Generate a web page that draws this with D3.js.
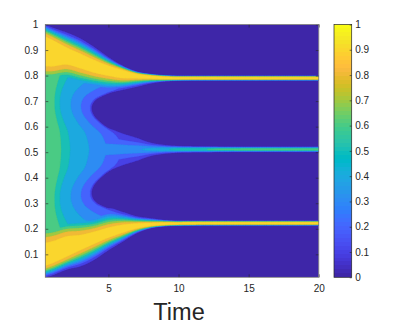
<!DOCTYPE html>
<html><head><meta charset="utf-8">
<script src="https://cdn.jsdelivr.net/npm/d3@7"></script>
<style>body{margin:0;background:#fff} svg text{font-family:"Liberation Sans",Arial,Helvetica,sans-serif}</style>
</head><body>
<svg id="chart" width="407" height="326"></svg>
<script>
// ---------- data ----------
const times         = [0.5,   1,     2,     3,     4,     5,     6,     7,     8,     9,     10,    12,    15,    20];
// upper branch
const upperCenter   = [0.895, 0.888, 0.877, 0.857, 0.836, 0.819, 0.806, 0.798, 0.794, 0.791, 0.790, 0.790, 0.790, 0.790];
const upperCore     = [0.058, 0.052, 0.034, 0.029, 0.025, 0.020, 0.016, 0.009, 0.006, 0.005, 0.004, 0.004, 0.004, 0.004];
const upperEdgeOut  = [0.105, 0.100, 0.092, 0.088, 0.075, 0.053, 0.033, 0.018, 0.012, 0.010, 0.009, 0.009, 0.009, 0.009];
const upperEdgeIn   = [0.150, 0.140, 0.130, 0.120, 0.100, 0.085, 0.062, 0.042, 0.025, 0.014, 0.010, 0.009, 0.009, 0.009];
// lower branch
const lowerCenter   = [0.100, 0.108, 0.130, 0.146, 0.165, 0.185, 0.200, 0.211, 0.217, 0.220, 0.221, 0.222, 0.222, 0.222];
const lowerCore     = [0.045, 0.043, 0.040, 0.030, 0.024, 0.020, 0.016, 0.010, 0.006, 0.005, 0.004, 0.004, 0.004, 0.004];
const lowerEdgeOut  = [0.090, 0.090, 0.090, 0.093, 0.086, 0.069, 0.051, 0.029, 0.015, 0.010, 0.009, 0.009, 0.009, 0.009];
const lowerEdgeIn   = [0.160, 0.150, 0.130, 0.120, 0.100, 0.095, 0.066, 0.038, 0.024, 0.014, 0.010, 0.009, 0.009, 0.009];
const bandPeak      = [0.95,  0.95,  0.95,  0.95,  0.95,  0.95,  0.95,  0.95,  0.95,  0.95,  0.95,  0.95,  0.95,  0.95];
// middle branch
const middleCenter  = 0.511;
const middlePeak    = [0.45,  0.42,  0.40,  0.39,  0.38,  0.38,  0.38,  0.39,  0.43,  0.48,  0.54,  0.60,  0.64,  0.66];
const middleEdge    = [0.120, 0.110, 0.100, 0.095, 0.090, 0.082, 0.062, 0.045, 0.026, 0.017, 0.013, 0.011, 0.010, 0.010];
const middleShape   = [1.3,   1.3,   1.3,   1.3,   1.3,   1.3,   1.4,   1.5,   1.8,   2.2,   2.6,   3.0,   3.2,   3.2];
// diffuse cloud between the branches: fade-out time vs. relative position u (0 = middle line, 1 = outer branch)
const cloudU        = [0,   0.1, 0.2, 0.3,  0.4,  0.49, 0.6,  0.7,  0.8, 0.9, 1];
const cloudEnd      = [6.2, 6.0, 5.6, 4.7,  4.0,  3.8,  4.1,  4.9,  5.9, 6.6, 6.8];
// cloud level vs. fraction of its lifetime
const cloudTau      = [0,    0.2,  0.31, 0.55, 0.77, 0.97, 1.0, 1.03];
const cloudLevel    = [0.68, 0.6,  0.5,  0.4,  0.3,  0.2,  0.1, 0.0];

const levels  = [0.1,0.2,0.3,0.4,0.5,0.6,0.7,0.8,0.9];
const xTicks  = [5,10,15,20];
const yTicks  = [0.1,0.2,0.3,0.4,0.5,0.6,0.7,0.8,0.9,1];
const cbTicks = [0,0.1,0.2,0.3,0.4,0.5,0.6,0.7,0.8,0.9,1];
const xDomain = [0.5, 20];
const yDomain = [0.01, 1];
const xLabel  = "Time";

// parula (64 colours)
const parulaMap = [
[0.2422,0.1504,0.6603],[0.2504,0.1650,0.7076],[0.2578,0.1818,0.7511],[0.2647,0.1978,0.7952],
[0.2706,0.2147,0.8364],[0.2751,0.2342,0.8710],[0.2783,0.2559,0.8991],[0.2803,0.2782,0.9221],
[0.2813,0.3006,0.9414],[0.2810,0.3228,0.9579],[0.2795,0.3447,0.9717],[0.2760,0.3667,0.9829],
[0.2699,0.3892,0.9906],[0.2602,0.4123,0.9952],[0.2440,0.4358,0.9988],[0.2206,0.4603,0.9973],
[0.1963,0.4847,0.9892],[0.1834,0.5074,0.9798],[0.1786,0.5289,0.9682],[0.1764,0.5499,0.9520],
[0.1687,0.5703,0.9359],[0.1540,0.5902,0.9218],[0.1460,0.6091,0.9079],[0.1380,0.6276,0.8973],
[0.1248,0.6459,0.8883],[0.1113,0.6635,0.8763],[0.0952,0.6798,0.8598],[0.0689,0.6948,0.8394],
[0.0297,0.7082,0.8163],[0.0036,0.7203,0.7917],[0.0067,0.7312,0.7660],[0.0433,0.7411,0.7394],
[0.0964,0.7500,0.7120],[0.1408,0.7584,0.6842],[0.1717,0.7670,0.6554],[0.1938,0.7758,0.6251],
[0.2161,0.7843,0.5923],[0.2470,0.7918,0.5567],[0.2906,0.7973,0.5188],[0.3406,0.8008,0.4789],
[0.3909,0.8029,0.4354],[0.4456,0.8024,0.3909],[0.5044,0.7993,0.3480],[0.5616,0.7942,0.3045],
[0.6174,0.7876,0.2612],[0.6720,0.7793,0.2227],[0.7242,0.7698,0.1910],[0.7738,0.7598,0.1646],
[0.8203,0.7498,0.1535],[0.8634,0.7406,0.1596],[0.9035,0.7330,0.1774],[0.9393,0.7288,0.2100],
[0.9728,0.7298,0.2394],[0.9956,0.7434,0.2371],[0.9970,0.7659,0.2199],[0.9952,0.7893,0.2028],
[0.9892,0.8136,0.1885],[0.9786,0.8386,0.1766],[0.9676,0.8639,0.1643],[0.9610,0.8890,0.1537],
[0.9597,0.9135,0.1423],[0.9628,0.9373,0.1265],[0.9691,0.9606,0.1064],[0.9769,0.9839,0.0805]];
const toRGB = c => d3.rgb(c[0]*255, c[1]*255, c[2]*255).formatHex();
const parula = v => toRGB(parulaMap[Math.max(0, Math.min(63, Math.floor(v*64 + 1e-9)))]);

// smooth (monotone cubic) reading between the picked values
function smoothThrough(xs, ys){
  const n = xs.length, d = [], m = new Array(n);
  for (let i=0;i<n-1;i++) d[i] = (ys[i+1]-ys[i])/(xs[i+1]-xs[i]);
  m[0]=d[0]; m[n-1]=d[n-2];
  for (let i=1;i<n-1;i++) m[i] = d[i-1]*d[i] <= 0 ? 0 : (d[i-1]+d[i])/2;
  for (let i=0;i<n-1;i++){
    if (d[i]===0){ m[i]=0; m[i+1]=0; continue; }
    const a=m[i]/d[i], b=m[i+1]/d[i], h=a*a+b*b;
    if (h>9){ const tt=3/Math.sqrt(h); m[i]=tt*a*d[i]; m[i+1]=tt*b*d[i]; }
  }
  return v => {
    if (v<=xs[0]) return ys[0];
    if (v>=xs[n-1]) return ys[n-1];
    const k = Math.min(n-2, Math.max(0, d3.bisectRight(xs, v)-1));
    const h = xs[k+1]-xs[k], s=(v-xs[k])/h, s2=s*s, s3=s2*s;
    return (2*s3-3*s2+1)*ys[k] + (s3-2*s2+s)*h*m[k] + (-2*s3+3*s2)*ys[k+1] + (s3-s2)*h*m[k+1];
  };
}

// ---------- layout ----------
const P = {left:45.3, right:318.8, top:24.5, bottom:277.3};
const CB = {left:334, right:351.7};
const svg = d3.select("#chart");
const x = d3.scaleLinear().domain(xDomain).range([P.left, P.right]);
const y = d3.scaleLinear().domain(yDomain).range([P.bottom, P.top]);

// ---------- field ----------
const S = arr => smoothThrough(times, arr);
const fUc=S(upperCenter), fUk=S(upperCore), fUo=S(upperEdgeOut), fUi=S(upperEdgeIn);
const fLc=S(lowerCenter), fLk=S(lowerCore), fLo=S(lowerEdgeOut), fLi=S(lowerEdgeIn);
const fA=S(bandPeak), fMa=S(middlePeak), fMe=S(middleEdge), fMp=S(middleShape);
const fEnd = smoothThrough(cloudU, cloudEnd);
const fLev = d3.scaleLinear().domain(cloudTau).range(cloudLevel).clamp(true);

// branch profile: peak A, value 0.9 at distance `core`, value 0.1 at distance `edge`
function profile(A, core, edge){
  const lc = Math.log(A/0.9), le = Math.log(A/0.1);
  const p = Math.log(lc/le)/Math.log(core/edge);
  const s = edge/Math.pow(le, 1/p);
  return {p, s};
}

const nx = 391, ny = 397;
const dt = (xDomain[1]-xDomain[0])/(nx-1), dy = (yDomain[1]-yDomain[0])/(ny-1);
const vals = new Float64Array(nx*ny);
for (let i=0;i<nx;i++){
  const t = xDomain[0] + i*dt;
  const cu=fUc(t), cl=fLc(t), A=fA(t);
  const uo=profile(A,fUk(t),fUo(t)), ui=profile(A,fUk(t),fUi(t));
  const lo=profile(A,fLk(t),fLo(t)), li=profile(A,fLk(t),fLi(t));
  const Am=fMa(t), pm=fMp(t), sm=fMe(t)/Math.pow(Math.log(Am/0.1), 1/pm);
  for (let j=0;j<ny;j++){
    const yv = yDomain[1] - j*dy;
    let d = yv-cu, pr = d>0?uo:ui;
    const bu = A*Math.exp(-Math.pow(Math.abs(d)/pr.s, pr.p));
    d = yv-cl; pr = d<0?lo:li;
    const bl = A*Math.exp(-Math.pow(Math.abs(d)/pr.s, pr.p));
    d = yv-middleCenter;
    const bm = Am*Math.exp(-Math.pow(Math.abs(d)/sm, pm));
    const u = yv>=middleCenter ? (yv-middleCenter)/(cu-middleCenter) : (middleCenter-yv)/(middleCenter-cl);
    let D = 0;
    if (u<=1){ const te=fEnd(u); D = fLev((t-xDomain[0])/(te-xDomain[0])); }
    vals[i + j*nx] = Math.max(bu,bl,bm,D);
  }
}

// ---------- plot ----------
const defs = svg.append("defs");
defs.append("clipPath").attr("id","clip").append("rect")
  .attr("x",P.left).attr("y",P.top).attr("width",P.right-P.left).attr("height",P.bottom-P.top);

const g = svg.append("g").attr("clip-path","url(#clip)");
g.append("rect").attr("x",P.left).attr("y",P.top).attr("width",P.right-P.left).attr("height",P.bottom-P.top)
  .attr("fill",parula(0));
const contours = d3.contours().size([nx,ny]).thresholds(levels)(vals);
const proj = d3.geoTransform({point(px,py){
  this.stream.point(x(xDomain[0]+(px-0.5)*dt), y(yDomain[1]-(py-0.5)*dy));
}});
const path = d3.geoPath(proj);
g.selectAll("path.lev").data(contours).join("path").attr("class","lev")
  .attr("d",path).attr("fill",d=>parula(d.value)).attr("stroke",d=>parula(d.value)).attr("stroke-width",0.25);

// axes
const axCol = "#262626";
function styleAxis(sel, labels){
  sel.select(".domain").remove();
  sel.selectAll(".tick line").attr("stroke",axCol).attr("stroke-width",0.6);
  sel.selectAll(".tick text").attr("fill",axCol).attr("font-size",10).style("display",labels?null:"none");
}
svg.append("g").attr("transform",`translate(0,${P.bottom})`)
  .call(d3.axisBottom(x).tickValues(xTicks).tickSizeInner(-3).tickSizeOuter(0).tickPadding(8))
  .call(s=>styleAxis(s,true));
svg.append("g").attr("transform",`translate(0,${P.top})`)
  .call(d3.axisTop(x).tickValues(xTicks).tickSizeInner(-3).tickSizeOuter(0))
  .call(s=>styleAxis(s,false));
svg.append("g").attr("transform",`translate(${P.left},0)`)
  .call(d3.axisLeft(y).tickValues(yTicks).tickFormat(d3.format("~g")).tickSizeInner(-3).tickSizeOuter(0).tickPadding(7))
  .call(s=>styleAxis(s,true));
svg.append("g").attr("transform",`translate(${P.right},0)`)
  .call(d3.axisRight(y).tickValues(yTicks).tickSizeInner(-3).tickSizeOuter(0))
  .call(s=>styleAxis(s,false));
svg.append("rect").attr("x",P.left).attr("y",P.top).attr("width",P.right-P.left).attr("height",P.bottom-P.top)
  .attr("fill","none").attr("stroke","#777").attr("stroke-width",0.8);

svg.append("text").attr("x",(P.left+P.right)/2 - 3).attr("y",320).attr("text-anchor","middle")
  .attr("font-size",23.5).attr("fill",axCol).text(xLabel);

// colorbar
const cbY = d3.scaleLinear().domain([0,1]).range([P.bottom, P.top]);
const grad = defs.append("linearGradient").attr("id","cbg").attr("x1",0).attr("y1",1).attr("x2",0).attr("y2",0);
parulaMap.forEach((c,k)=>{
  grad.append("stop").attr("offset",k/64).attr("stop-color",toRGB(c));
  grad.append("stop").attr("offset",(k+1)/64).attr("stop-color",toRGB(c));
});
svg.append("rect").attr("x",CB.left).attr("y",P.top).attr("width",CB.right-CB.left).attr("height",P.bottom-P.top)
  .attr("fill","url(#cbg)");
svg.append("g").attr("transform",`translate(${CB.right},0)`)
  .call(d3.axisRight(cbY).tickValues(cbTicks).tickFormat(d3.format("~g")).tickSizeInner(-2).tickSizeOuter(0).tickPadding(3.5))
  .call(s=>styleAxis(s,true));
svg.append("rect").attr("x",CB.left).attr("y",P.top).attr("width",CB.right-CB.left).attr("height",P.bottom-P.top)
  .attr("fill","none").attr("stroke",axCol).attr("stroke-width",0.7);
</script>
</body></html>
